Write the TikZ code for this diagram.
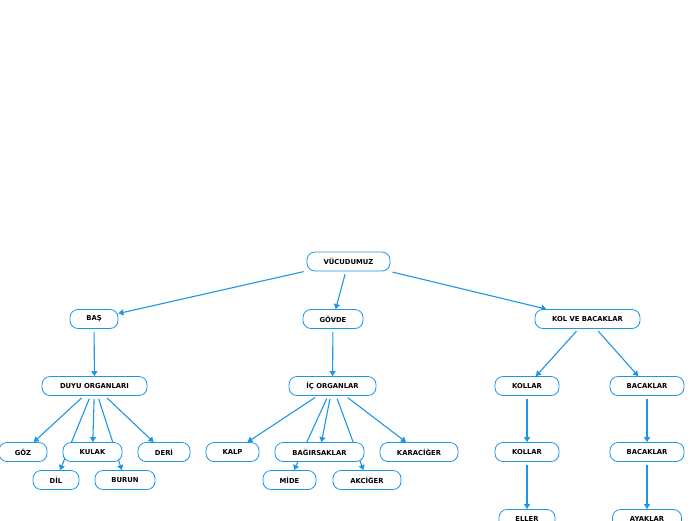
\documentclass[tikz,border=0pt]{standalone}
\usepackage{fontspec}
\setmainfont{DejaVu Sans}
\usepackage{xcolor}
\usetikzlibrary{arrows.meta}
\usetikzlibrary{backgrounds}
\definecolor{mapBlue}{HTML}{1E96E6}

\begin{document}
\begin{tikzpicture}[x=1pt,y=-1pt,
    box/.style={draw=mapBlue,line width=0.8pt,fill=white,rounded corners=8pt,
        minimum height=19pt,inner sep=0pt,font=\fontsize{6.8}{7}\selectfont\bfseries},
    link/.style={draw=mapBlue,line width=1.1pt,shorten <=3pt,
        -{Triangle[width=6pt,length=5pt]}}]

\useasboundingbox (0,0) rectangle (696,520);

% top
\node[box,minimum width=83pt] (vucut) at (348.5,261.5) {VÜCUDUMUZ};
\node[box,minimum width=48pt] (bas) at (94,319) {BAŞ};
\node[box,minimum width=60pt] (govde) at (333,319) {GÖVDE};
\node[box,minimum width=105pt] (kolbacak) at (587.5,319) {KOL VE BACAKLAR};

% second row
\node[box,minimum width=105pt] (duyu) at (94.5,386) {DUYU ORGANLARI};
\node[box,minimum width=87pt] (ic) at (332.5,386) {İÇ ORGANLAR};
\node[box,minimum width=64pt] (kollar) at (527,386) {KOLLAR};
\node[box,minimum width=74pt] (bacaklar) at (647,386) {BACAKLAR};

% organs
\node[box,minimum width=48pt] (goz) at (23,452) {GÖZ};
\node[box,minimum width=59pt] (kulak) at (92.5,452) {KULAK};
\node[box,minimum width=52pt] (deri) at (164,452) {DERİ};
\node[box,minimum width=46pt] (dil) at (56,480) {DİL};
\node[box,minimum width=60pt] (burun) at (125,480) {BURUN};
\node[box,minimum width=53pt] (kalp) at (232.5,452) {KALP};
\node[box,minimum width=89pt] (bagirsak) at (319.5,452) {BAĞIRSAKLAR};
\node[box,minimum width=78pt] (karaciger) at (419,452) {KARACİĞER};
\node[box,minimum width=53pt] (mide) at (289.5,480) {MİDE};
\node[box,minimum width=68pt] (akciger) at (367,480) {AKCİĞER};

% limbs
\node[box,minimum width=64pt] (kollarB) at (527,452) {KOLLAR};
\node[box,minimum width=74pt] (bacaklarB) at (647,452) {BACAKLAR};
\node[box,minimum width=56pt] (eller) at (527,519) {ELLER};
\node[box,minimum width=69pt] (ayaklar) at (647,519) {AYAKLAR};

\begin{pgfonlayer}{background}
\draw[link] (vucut) -- (bas);
\draw[link] (vucut) -- (govde);
\draw[link] (vucut) -- (kolbacak);
\draw[link] (bas) -- (duyu);
\draw[link] (govde) -- (ic);
\draw[link] (kolbacak) -- (kollar);
\draw[link] (kolbacak) -- (bacaklar);
\foreach \organ in {goz,kulak,deri,dil,burun}
    \draw[link] (duyu) -- (\organ);
\foreach \organ in {kalp,bagirsak,karaciger,mide,akciger}
    \draw[link] (ic) -- (\organ);
\draw[link] (kollar) -- (kollarB);
\draw[link] (bacaklar) -- (bacaklarB);
\draw[link] (kollarB) -- (eller);
\draw[link] (bacaklarB) -- (ayaklar);
\end{pgfonlayer}
\end{tikzpicture}
\end{document}
